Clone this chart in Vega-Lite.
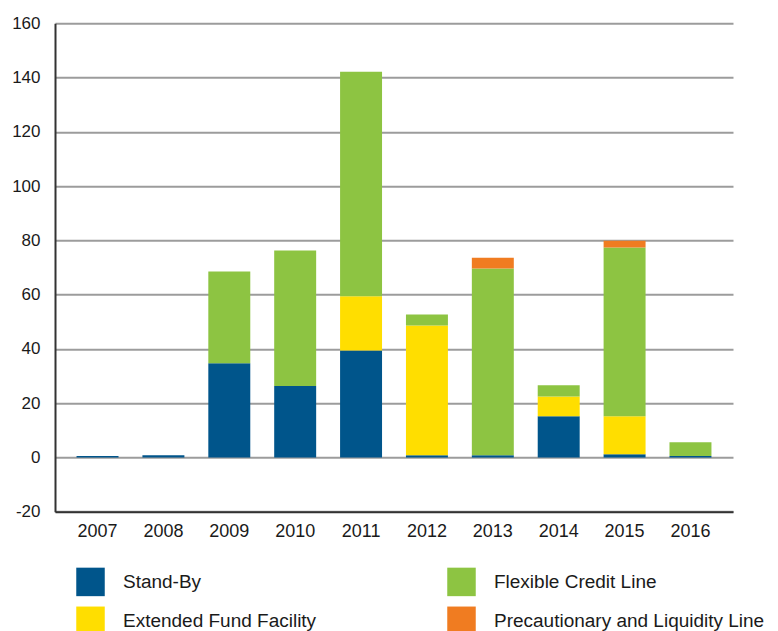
{
  "$schema": "https://vega.github.io/schema/vega-lite/v6.json",
  "width": 678,
  "height": 488.4,
  "autosize": {"type": "none"},
  "padding": {"left": 55, "top": 23.3, "right": 45, "bottom": 120},
  "background": "white",
  "config": {
    "font": "Liberation Sans",
    "view": {"stroke": null}
  },
  "data": {
    "values": [
      {"year": "2007", "type": "Stand-By", "rank": 1, "value": 0.5},
      {"year": "2008", "type": "Stand-By", "rank": 1, "value": 0.8},
      {"year": "2009", "type": "Stand-By", "rank": 1, "value": 34.7},
      {"year": "2009", "type": "Flexible Credit Line", "rank": 3, "value": 33.8},
      {"year": "2010", "type": "Stand-By", "rank": 1, "value": 26.3},
      {"year": "2010", "type": "Flexible Credit Line", "rank": 3, "value": 50.0},
      {"year": "2011", "type": "Stand-By", "rank": 1, "value": 39.4},
      {"year": "2011", "type": "Extended Fund Facility", "rank": 2, "value": 20.0},
      {"year": "2011", "type": "Flexible Credit Line", "rank": 3, "value": 82.7},
      {"year": "2012", "type": "Stand-By", "rank": 1, "value": 0.8},
      {"year": "2012", "type": "Extended Fund Facility", "rank": 2, "value": 47.8},
      {"year": "2012", "type": "Flexible Credit Line", "rank": 3, "value": 4.1},
      {"year": "2013", "type": "Stand-By", "rank": 1, "value": 0.8},
      {"year": "2013", "type": "Flexible Credit Line", "rank": 3, "value": 68.8},
      {"year": "2013", "type": "Precautionary and Liquidity Line", "rank": 4, "value": 4.0},
      {"year": "2014", "type": "Stand-By", "rank": 1, "value": 15.2},
      {"year": "2014", "type": "Extended Fund Facility", "rank": 2, "value": 7.3},
      {"year": "2014", "type": "Flexible Credit Line", "rank": 3, "value": 4.1},
      {"year": "2015", "type": "Stand-By", "rank": 1, "value": 1.2},
      {"year": "2015", "type": "Extended Fund Facility", "rank": 2, "value": 14.0},
      {"year": "2015", "type": "Flexible Credit Line", "rank": 3, "value": 62.2},
      {"year": "2015", "type": "Precautionary and Liquidity Line", "rank": 4, "value": 2.5},
      {"year": "2016", "type": "Stand-By", "rank": 1, "value": 0.5},
      {"year": "2016", "type": "Flexible Credit Line", "rank": 3, "value": 5.1}
    ]
  },
  "mark": {"type": "bar"},
  "encoding": {
    "x": {
      "field": "year",
      "type": "ordinal",
      "title": null,
      "scale": {"paddingInner": 0.363, "paddingOuter": 0.327},
      "axis": {
        "labelAngle": 0,
        "labelFontSize": 18,
        "labelColor": "#1a1a1a",
        "labelPadding": 11,
        "ticks": false,
        "domain": true,
        "domainColor": "#333333",
        "domainWidth": 2,
        "grid": false
      }
    },
    "y": {
      "field": "value",
      "type": "quantitative",
      "stack": "zero",
      "title": null,
      "scale": {"domain": [-20, 160], "nice": false, "zero": false},
      "axis": {
        "values": [-20, 0, 20, 40, 60, 80, 100, 120, 140, 160],
        "labelExpr": "replace(datum.label, '\u2212', '-')",
        "labelFontSize": 17,
        "labelColor": "#1a1a1a",
        "labelPadding": 15,
        "ticks": false,
        "domain": true,
        "domainColor": "#333333",
        "domainWidth": 2,
        "grid": true,
        "gridColor": "#9c9c9c",
        "gridWidth": 2
      }
    },
    "color": {
      "field": "type",
      "type": "nominal",
      "title": null,
      "scale": {
        "domain": ["Stand-By", "Flexible Credit Line", "Extended Fund Facility", "Precautionary and Liquidity Line"],
        "range": ["#00558B", "#8DC442", "#FFDE00", "#F07C21"]
      },
      "legend": {
        "orient": "none",
        "legendX": 21,
        "legendY": 544,
        "columns": 2,
        "direction": "horizontal",
        "symbolType": "square",
        "symbolSize": 812,
        "symbolStrokeWidth": 0,
        "symbolOpacity": 1,
        "labelFontSize": 19,
        "labelColor": "#1a1a1a",
        "labelOffset": 18,
        "labelLimit": 400,
        "columnPadding": 130,
        "rowPadding": 10
      }
    },
    "order": {"field": "rank", "type": "quantitative"}
  }
}
